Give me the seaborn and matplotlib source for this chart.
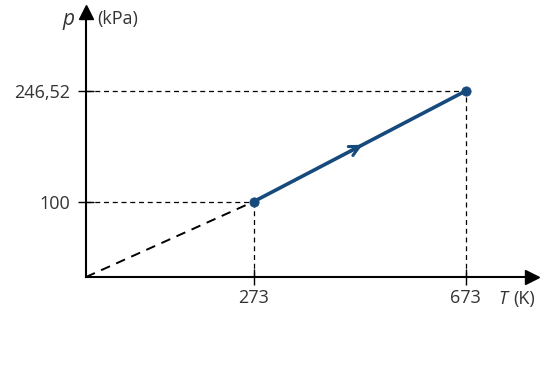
import numpy as np
import pandas as pd
import matplotlib
matplotlib.use("Agg")
import matplotlib.pyplot as plt
import seaborn as sns

# Isochoric heating of a gas: state points (T in K, p in kPa)
T_states = [273, 673]
p_states = [100, 246.52]
T_origin = [0, 273]
p_origin = [0, 100]
x_tick_labels = ["273", "673"]
y_tick_labels = ["100", "246,52"]

sns.set_theme(style="white")
plt.rcParams["font.family"] = ["Open Sans", "DejaVu Sans"]

W, H = 542, 381
fig = plt.figure(figsize=(W / 100, H / 100), dpi=100)
ax = fig.add_axes([86 / W, 1 - 277 / H, 446 / W, 265 / H])

# schematic temperature axis: the stretch below 273 K is drawn compressed
K1, U1, SLOPE_HI = 273.0, 168.0, 212.0 / 400.0


def t_forward(t):
    t = np.asarray(t, dtype=float)
    return np.where(t <= K1, t * (U1 / K1), U1 + (t - K1) * SLOPE_HI)


def t_inverse(u):
    u = np.asarray(u, dtype=float)
    return np.where(u <= U1, u * (K1 / U1), K1 + (u - U1) / SLOPE_HI)


ax.set_xscale("function", functions=(t_forward, t_inverse))

blue = "#174a7c"
states = pd.DataFrame({"T": T_states, "p": p_states})

# extrapolation back to the origin
sns.lineplot(x=T_origin, y=p_origin, ax=ax, color="black", lw=1.4,
             linestyle=(0, (5, 3.5)))
# guide lines from each state to the axes
for t, p in zip(T_states, p_states):
    ax.plot([0, t], [p, p], color="black", lw=0.9, linestyle=(0, (4, 3)))
    ax.plot([t, t], [0, p], color="black", lw=0.9, linestyle=(0, (4, 3)))

sns.lineplot(data=states, x="T", y="p", ax=ax, color=blue, lw=2.6)
sns.scatterplot(data=states, x="T", y="p", ax=ax, color=blue, s=45,
                edgecolor=blue, zorder=5)

# direction of the process
t0, t1 = 455, 478
slope = (p_states[1] - p_states[0]) / (T_states[1] - T_states[0])
pa = p_states[0] + slope * (t0 - T_states[0])
pb = p_states[0] + slope * (t1 - T_states[0])
ax.annotate("", xy=(t1, pb), xytext=(t0, pa),
            arrowprops=dict(arrowstyle="->", color=blue, lw=2.2,
                            mutation_scale=18, shrinkA=0, shrinkB=0))

ax.set_xlim(0, 798)
ax.set_ylim(0, 351)
ax.set_xticks(T_states)
ax.set_xticklabels(x_tick_labels)
ax.set_yticks(p_states)
ax.set_yticklabels(y_tick_labels)
ax.xaxis.set_minor_locator(matplotlib.ticker.NullLocator())
ax.tick_params(axis="both", direction="inout", length=11, width=1.0,
               colors="black", labelsize=13, bottom=True, left=True)
ax.tick_params(axis="y", pad=6)
ax.tick_params(axis="x", pad=3)
for lab in ax.get_xticklabels() + ax.get_yticklabels():
    lab.set_color("#333333")

for side in ("top", "right"):
    ax.spines[side].set_visible(False)
for side in ("left", "bottom"):
    ax.spines[side].set_color("black")
    ax.spines[side].set_linewidth(1.5)

# axis arrowheads
ax.plot(1, 0, ">", color="black", ms=10, transform=ax.get_yaxis_transform(),
        clip_on=False)
ax.plot(0, 1, "^", color="black", ms=10, transform=ax.get_xaxis_transform(),
        clip_on=False)

ax.set_xlabel("")
ax.set_ylabel("")

# axis titles
fig.text(68 / W, 1 - 19 / H, "p", fontsize=15, style="italic",
         ha="center", va="center", color="#333333")
fig.text(97 / W, 1 - 19 / H, "(kPa)", fontsize=13,
         ha="left", va="center", color="#333333")
fig.text(498 / W, 1 - 299 / H, "T", fontsize=13, style="italic",
         ha="left", va="center", color="#333333")
fig.text(513 / W, 1 - 299 / H, "(K)", fontsize=13,
         ha="left", va="center", color="#333333")

fig.savefig("out.png", dpi=100, facecolor="white")
